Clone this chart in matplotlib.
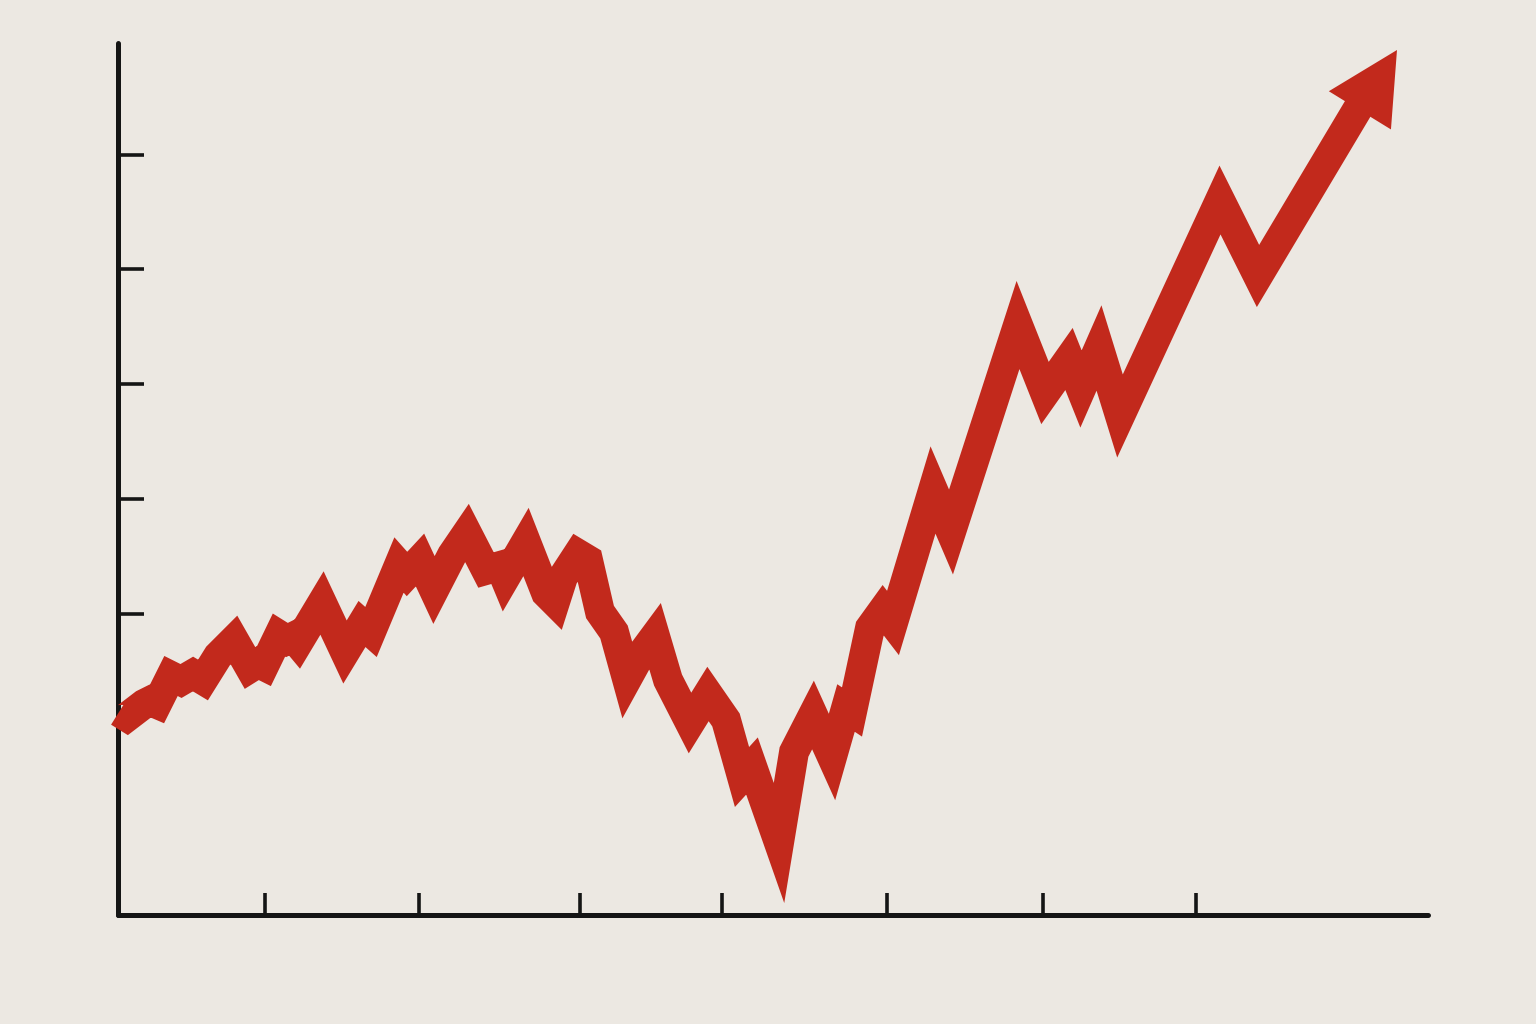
import matplotlib
matplotlib.use("Agg")
import matplotlib.pyplot as plt

# trend line (x = time, y = value)
x_vals = [0.1, 0.9, 2.6, 3.2, 3.9, 5.3, 6.3, 7.5, 8.5, 10.0, 11.6, 13.2, 14.0, 14.6,
          16.1, 16.9, 17.5, 18.0, 20.4, 22.7, 24.4, 25.3, 28.1, 28.9, 30.2, 31.6,
          33.4, 34.9, 36.8, 38.2, 38.7, 40.8, 42.8, 43.7, 44.5, 46.0, 47.0, 48.2,
          49.6, 50.9, 52.0, 53.7, 55.0, 57.2, 59.0, 60.8, 62.4, 63.4, 66.1, 67.6,
          69.5, 71.4, 72.8, 73.4, 75.2, 76.5, 77.5, 81.5, 83.3, 90.0, 92.7, 95.1,
          96.3, 98.1, 100.2, 110.2, 114.0, 124.2]
y_vals = [20.3, 19.8, 21.1, 21.4, 21.1, 23.9, 23.4, 24.1, 23.5, 25.9, 27.5, 24.7, 25.2, 24.9,
          28.0, 27.5, 27.8, 27.2, 31.2, 26.3, 29.1, 28.3, 35.0, 34.1, 35.5, 32.5,
          36.0, 38.2, 34.5, 34.9, 33.7, 37.3, 32.2, 31.3, 33.8, 36.1, 35.5, 30.3,
          28.3, 23.6, 25.6, 27.9, 23.5, 19.2, 22.1, 19.5, 13.8, 14.9, 7.2, 16.3,
          20.0, 15.8, 20.7, 20.3, 28.7, 30.5, 29.2, 42.5, 38.3, 59.0, 52.2, 55.6,
          52.6, 56.7, 49.9, 71.5, 63.9, 81.0]
arrow_tip = (127.9, 86.5)

x_ticks = [14.7, 30.1, 46.2, 60.4, 76.9, 92.5, 107.8]
y_ticks = [30.1, 41.6, 53.1, 64.6, 76.0]

RED = "#c2291c"
INK = "#151515"
BG = "#ece8e2"

fig = plt.figure(figsize=(15.36, 10.24), dpi=100, facecolor=BG)
ax = fig.add_axes([118 / 1536, 109 / 1024, 1310 / 1536, 872 / 1024])
ax.set_facecolor("none")

ax.plot(x_vals, y_vals, color=RED, lw=21.5, solid_joinstyle="miter",
        solid_capstyle="butt", clip_on=False, zorder=3)

# arrow head on the last segment
ax.annotate("", xy=arrow_tip, xytext=(x_vals[-2], y_vals[-2]),
            arrowprops=dict(arrowstyle="-|>,head_length=3.4,head_width=1.75",
                            mutation_scale=15, fc=RED, ec=RED, lw=0,
                            shrinkA=0, shrinkB=0),
            annotation_clip=False, zorder=4)

ax.set_xlim(0, 131.0)
ax.set_ylim(0, 87.2)

for side in ["top", "right"]:
    ax.spines[side].set_visible(False)
for side in ["left", "bottom"]:
    ax.spines[side].set_color(INK)
    ax.spines[side].set_linewidth(3.6)
    ax.spines[side].set_capstyle("round")

ax.set_xticks(x_ticks)
ax.set_yticks(y_ticks)
ax.set_xticklabels([])
ax.set_yticklabels([])
ax.tick_params(axis="x", direction="in", length=16, width=2.6, color=INK)
ax.tick_params(axis="y", direction="in", length=19, width=2.6, color=INK)

fig.savefig("out.png", dpi=100, facecolor=BG)
